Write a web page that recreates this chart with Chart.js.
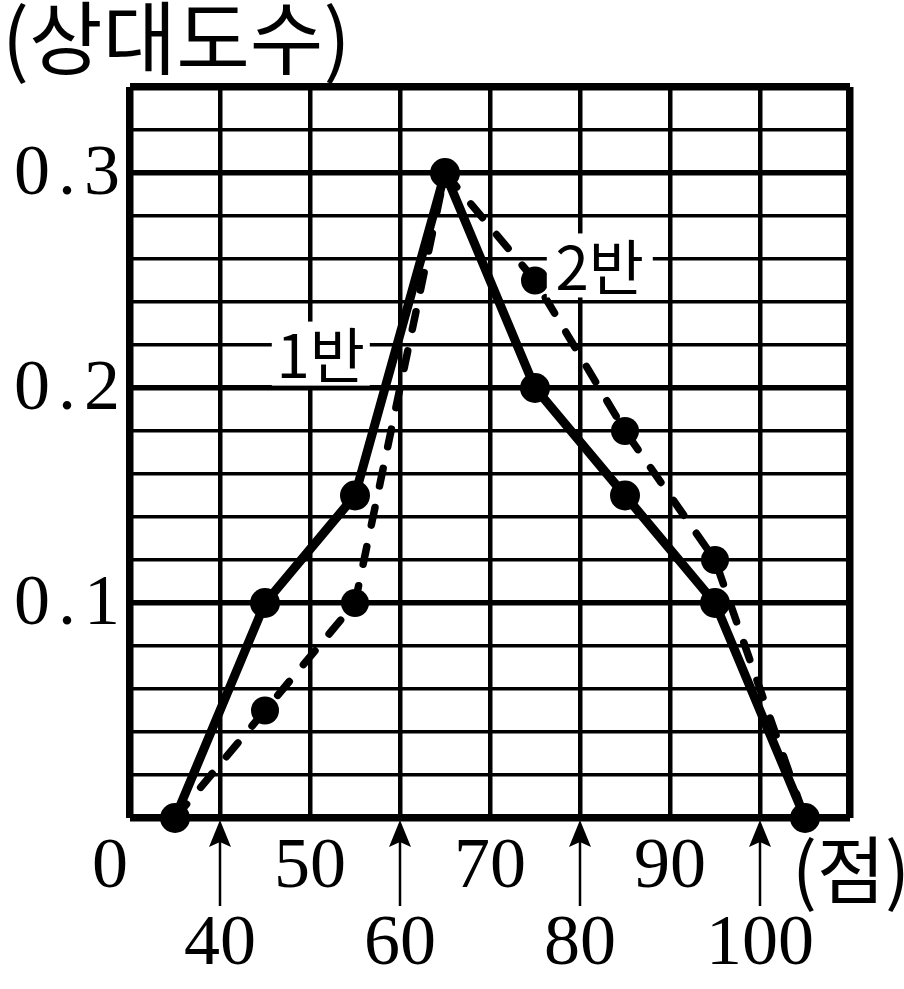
<!DOCTYPE html>
<html>
<head>
<meta charset="utf-8">
<script src="https://cdn.jsdelivr.net/npm/chart.js@4.4.1/dist/chart.umd.min.js"></script>
<style>
  html, body { margin: 0; padding: 0; background: #fff; }
  #wrap { width: 904px; height: 989px; }
</style>
</head>
<body>
<div id="wrap"><canvas id="freqChart" width="904" height="989"></canvas></div>
<script>
// 점수 (계급값)
const scores = [35, 45, 55, 65, 75, 85, 95, 105];
// 상대도수
const class1 = [0, 0.1, 0.15, 0.3, 0.2, 0.15, 0.1, 0];
const class2 = [0, 0.05, 0.1, 0.3, 0.25, 0.18, 0.12, 0];
const seriesNames = ['1반', '2반'];

// 축 눈금
const yTickValues = [0.1, 0.2, 0.3];
const yTickLabels = ['0.1', '0.2', '0.3'];
const xUpperTicks = [50, 70, 90];
const xLowerTicks = [40, 60, 80, 100];
const yTitle = '(상대도수)';
const xUnit = '(점)';

const serifFont = '"Liberation Serif", "DejaVu Serif", serif';
const krFont = '"Noto Sans CJK KR", "Noto Sans", sans-serif';

// 그래프 위 이름표 위치 (데이터 좌표)
const nameSpots = [
    { x: 51.2, y: 0.216, w: 98, h: 64 },
    { x: 82.2, y: 0.257, w: 106, h: 64 }
];

function isTenth(v) {
    return Math.abs(v * 10 - Math.round(v * 10)) < 1e-6;
}

function drawArrow(ctx, x, yFrom, yTo) {
    ctx.beginPath();
    ctx.moveTo(x, yFrom);
    ctx.lineTo(x, yTo + 20);
    ctx.stroke();
    ctx.beginPath();
    ctx.moveTo(x, yTo);
    ctx.lineTo(x - 11, yTo + 27);
    ctx.lineTo(x, yTo + 22);
    ctx.lineTo(x + 11, yTo + 27);
    ctx.closePath();
    ctx.fill();
}

const labelPlugin = {
    id: 'labels',
    afterDatasetsDraw(chart) {
        const ctx = chart.ctx;
        const xs = chart.scales.x;
        const ys = chart.scales.y;
        ctx.save();

        // 1반, 2반 이름표
        ctx.font = '60px ' + krFont;
        ctx.textAlign = 'center';
        ctx.textBaseline = 'middle';
        nameSpots.forEach((s, i) => {
            const px = xs.getPixelForValue(s.x);
            const py = ys.getPixelForValue(s.y);
            ctx.fillStyle = '#fff';
            ctx.fillRect(px - s.w / 2, py - s.h / 2, s.w, s.h);
            ctx.fillStyle = '#000';
            ctx.fillText(seriesNames[i], px, py + 2);
        });
        ctx.restore();
    },
    afterDraw(chart) {
        const ctx = chart.ctx;
        const xs = chart.scales.x;
        const ys = chart.scales.y;
        const area = chart.chartArea;
        ctx.save();
        ctx.fillStyle = '#000';
        ctx.strokeStyle = '#000';

        // 세로축 제목
        ctx.font = '80px ' + krFont;
        ctx.textAlign = 'left';
        ctx.textBaseline = 'middle';
        ctx.fillText(yTitle, 2, 38);

        // 세로축 눈금
        ctx.font = '72px ' + serifFont;
        ctx.textAlign = 'right';
        ctx.letterSpacing = '8px';
        yTickValues.forEach((v, i) => {
            ctx.fillText(yTickLabels[i], 128, ys.getPixelForValue(v) + 2);
        });
        ctx.letterSpacing = '0px';

        // 가로축 눈금 (위 줄)
        ctx.textAlign = 'center';
        ctx.fillText('0', 110, area.bottom + 50);
        xUpperTicks.forEach(v => {
            ctx.fillText(String(v), xs.getPixelForValue(v), area.bottom + 50);
        });

        // 가로축 눈금 (아래 줄) 과 화살표
        ctx.lineWidth = 2.5;
        xLowerTicks.forEach(v => {
            const px = xs.getPixelForValue(v);
            ctx.fillText(String(v), px, area.bottom + 127);
            drawArrow(ctx, px, area.bottom + 88, area.bottom + 2);
        });

        // 단위
        ctx.font = '74px ' + krFont;
        ctx.textAlign = 'left';
        ctx.fillText(xUnit, 792, area.bottom + 52);
        ctx.restore();
    }
};

new Chart(document.getElementById('freqChart'), {
    type: 'line',
    data: {
        datasets: [
            {
                label: seriesNames[1],
                data: scores.map((x, i) => ({ x: x, y: class2[i] })),
                borderColor: '#000',
                backgroundColor: '#000',
                borderWidth: 7.5,
                borderDash: [18, 22],
                borderCapStyle: 'round',
                pointRadius: 14,
                pointBorderWidth: 0,
                tension: 0,
                clip: false
            },
            {
                label: seriesNames[0],
                data: scores.map((x, i) => ({ x: x, y: class1[i] })),
                borderColor: '#000',
                backgroundColor: '#000',
                borderWidth: 9,
                pointRadius: 15,
                pointBorderWidth: 0,
                tension: 0,
                clip: false
            }
        ]
    },
    options: {
        responsive: false,
        animation: false,
        devicePixelRatio: 1,
        layout: {
            padding: { left: 130, top: 87, right: 54, bottom: 171 }
        },
        plugins: {
            legend: { display: false },
            tooltip: { enabled: false }
        },
        scales: {
            x: {
                type: 'linear',
                min: 30,
                max: 110,
                border: { display: false },
                ticks: { display: false, stepSize: 10 },
                grid: {
                    color: '#000',
                    drawTicks: false,
                    lineWidth: c => (c.tick && (c.tick.value === 30 || c.tick.value === 110)) ? 7.5 : 4.5
                }
            },
            y: {
                min: 0,
                max: 0.34,
                border: { display: false },
                ticks: { display: false, stepSize: 0.02 },
                grid: {
                    color: '#000',
                    drawTicks: false,
                    lineWidth: c => {
                        if (!c.tick) return 4;
                        const v = c.tick.value;
                        if (Math.abs(v) < 1e-6 || Math.abs(v - 0.34) < 1e-6) return 7.5;
                        return isTenth(v) ? 5.5 : 3.5;
                    }
                }
            }
        }
    },
    plugins: [labelPlugin]
});
</script>
</body>
</html>
